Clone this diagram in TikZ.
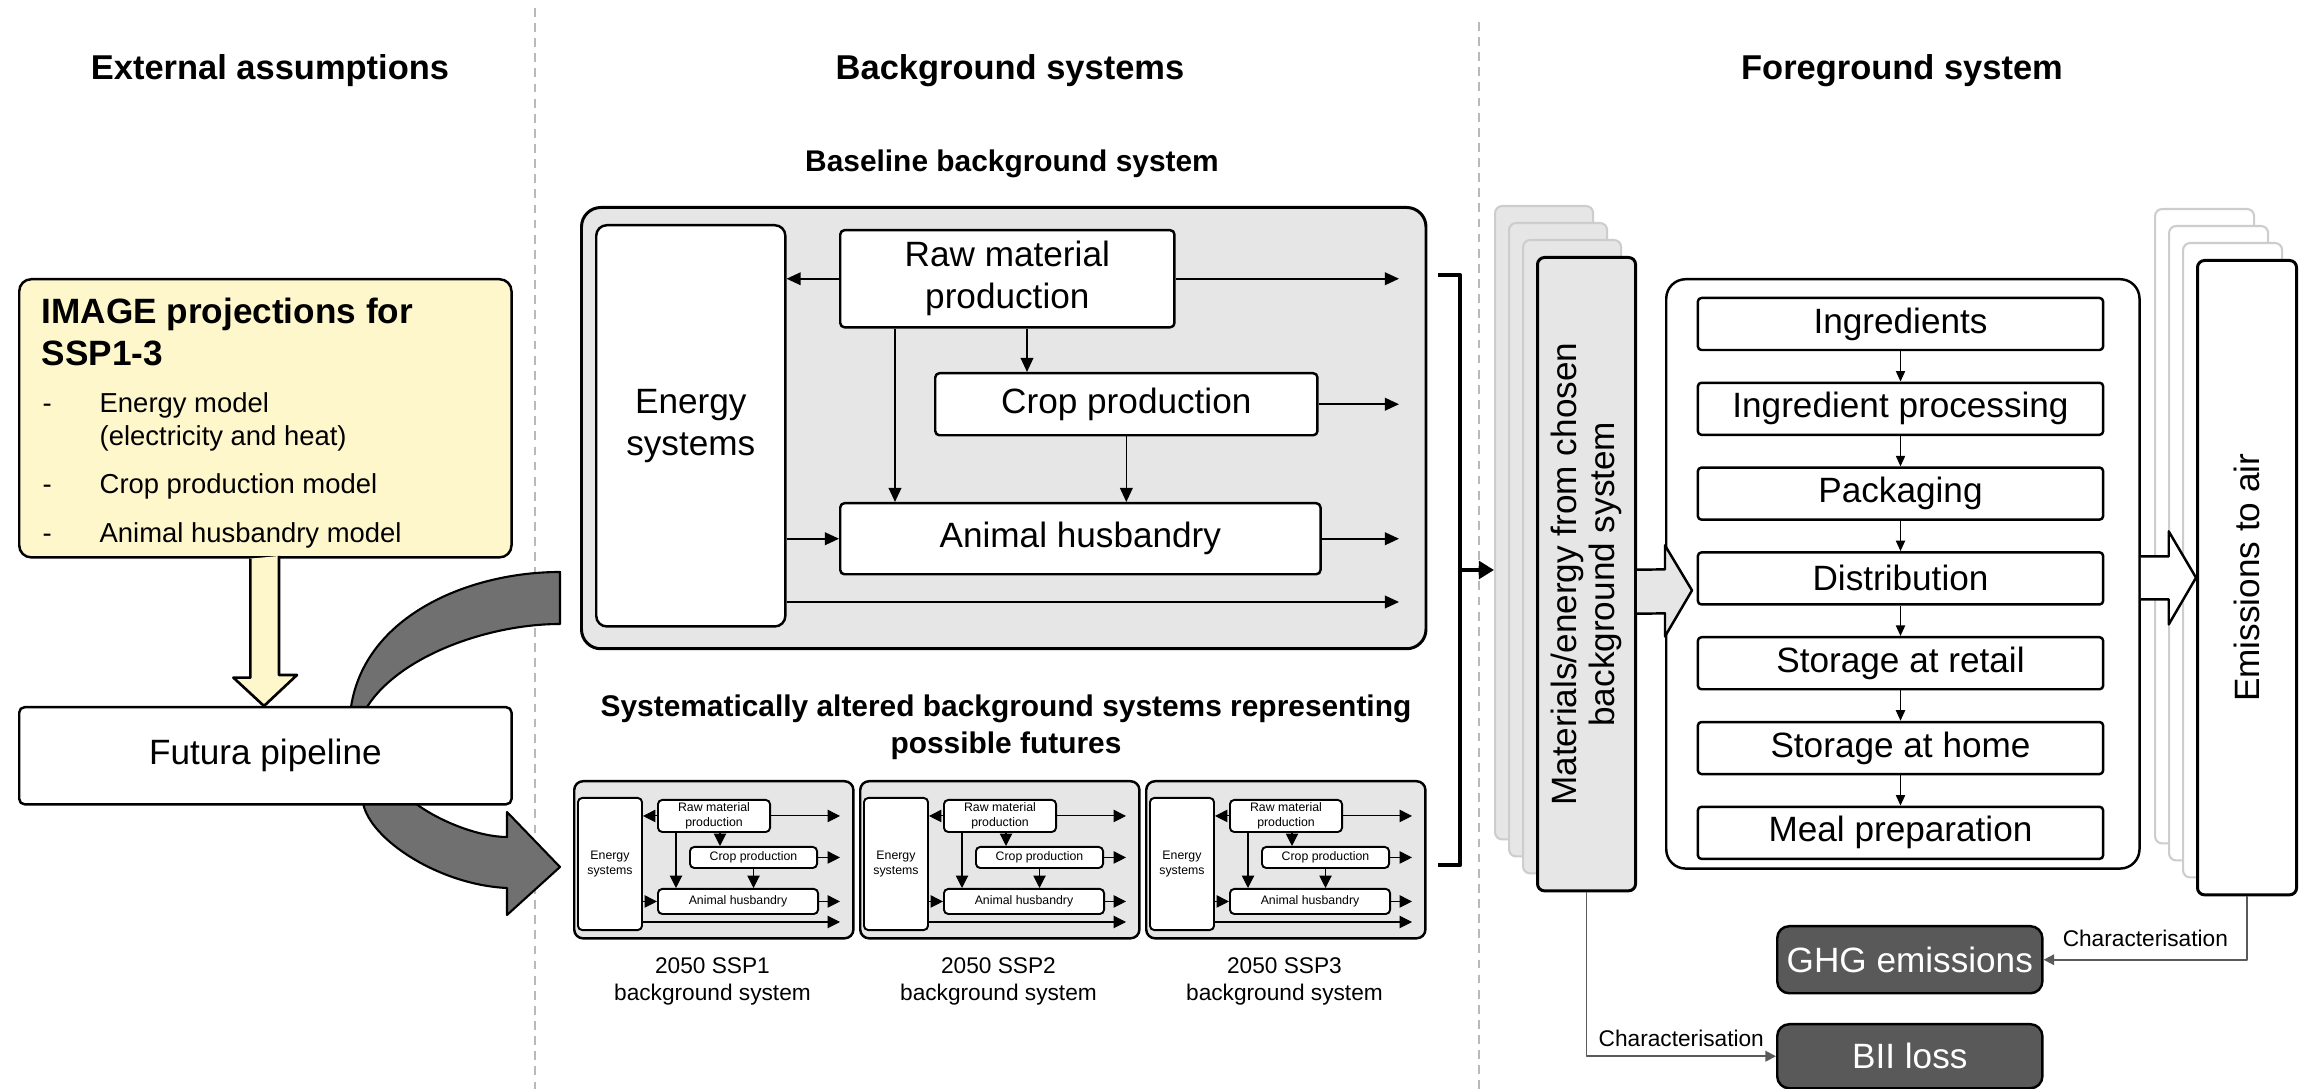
\documentclass[tikz,border=0pt]{standalone}
\usepackage{fontspec}
\setmainfont{Liberation Sans}
\usetikzlibrary{positioning, arrows.meta, calc}

\definecolor{paleyellow}{RGB}{255,247,204}
\definecolor{panelgray}{RGB}{230,230,230}
\definecolor{ghostedge}{RGB}{205,205,205}
\definecolor{darkbox}{RGB}{89,89,89}
\definecolor{bendgray}{RGB}{112,112,112}
\definecolor{sepgray}{RGB}{185,185,185}
\definecolor{linkgray}{RGB}{90,90,90}

\begin{document}
\begin{tikzpicture}[x=0.01cm, y=-0.01cm, line join=round,
        font=\fontsize{10}{12}\selectfont,
        heading/.style={font=\fontsize{9.8}{12}\selectfont\bfseries, inner sep=0pt, anchor=base},
        subheading/.style={font=\fontsize{8.5}{10.5}\selectfont\bfseries, inner sep=0pt, align=center},
        item/.style={font=\fontsize{7.8}{9.4}\selectfont, inner sep=0pt, anchor=base west},
        box/.style={draw, line width=0.7pt, fill=white, rounded corners=1.2pt, inner sep=0pt, align=center, anchor=north west},
        tinybox/.style={font=\fontsize{3.5}{4.2}\selectfont, line width=0.55pt},
        panel/.style={draw, line width=0.85pt, fill=panelgray, rounded corners=5.5pt, inner sep=0pt, anchor=north west},
        ghost/.style={draw=ghostedge, line width=0.6pt, rounded corners=2pt, inner sep=0pt, anchor=north west},
        stepbox/.style={draw, line width=0.7pt, fill=white, rounded corners=1pt, minimum width=4.05cm, minimum height=0.52cm, inner sep=0pt},
        impact/.style={draw, line width=0.7pt, fill=darkbox, text=white, rounded corners=3.4pt, minimum width=2.65cm, inner sep=0pt, anchor=north west},
        flow/.style={line width=0.45pt, -{Triangle[length=4pt, width=3.6pt]}},
        tinyflow/.style={line width=0.3pt, -{Triangle[length=3.5pt, width=3.5pt]}},
        steparrow/.style={line width=0.45pt, -{Triangle[length=3pt, width=2.6pt]}},
        charlink/.style={draw=linkgray, line width=0.5pt, -{Triangle[length=3pt, width=3pt]}},
        charlabel/.style={font=\fontsize{6.45}{7.7}\selectfont, text=black, above},
        sepline/.style={draw=sepgray, line width=0.4pt, dash pattern=on 2.5pt off 1.8pt}
    ]
    \path[fill=white, use as bounding box] (0,0) rectangle (2311,1089);

    \node[heading] (hext) at (270,80) {External assumptions};
    \node[heading] (hbg) at (1010,80) {Background systems};
    \node[heading] (hfg) at (1902,80) {Foreground system};

    \draw[sepline] (535,8) -- (535,1089);
    \draw[sepline] (1479,22) -- (1479,1089);

    \node[box, fill=paleyellow, rounded corners=3.4pt, minimum width=4.92cm, minimum height=2.78cm] (img) at (18,278) {};
    \node[anchor=north west, align=left, inner sep=0pt, font=\fontsize{10}{12}\selectfont\bfseries] (imgtitle) at (41,297) {IMAGE projections for\\SSP1-3};
    \foreach \y/\txt [count=\k] in {413/Energy model, 494/Crop production model, 543/Animal husbandry model} {
        \node[item] (dash\k) at (42,\y) {-};
        \node[item] (model\k) at (99,\y) {\txt};
    }
    \node[item] (model1b) at (99,446) {(electricity and heat)};

    \draw[line width=0.75pt, fill=paleyellow] (img.south) ++(-15,0) -- ++(0,119) -- ++(-17,0) -- (264,706) -- ++(33,-31) -- ++(-18,0) -- ++(0,-119);

    \draw[line width=0.6pt, fill=bendgray] (560,572) .. controls (470,572) and (365,615) .. (351,707)
        .. controls (348,740) and (352,775) .. (363,803)
        .. controls (370,840) and (440,885) .. (507,888) -- (507,915) -- (560,867) -- (507,812) -- (507,837)
        .. controls (480,837) and (440,822) .. (415,803)
        .. controls (390,785) and (372,730) .. (367,707)
        .. controls (400,655) and (490,624) .. (560,624) -- cycle;

    \node[box, rounded corners=1.5pt, minimum width=4.92cm, minimum height=0.97cm] (futura) at (18,706) {Futura pipeline};

    \node[subheading, anchor=base] (basetitle) at (1012,172) {Baseline background system};
    \node[panel, minimum width=8.44cm, minimum height=4.41cm] (basepanel) at (580,206) {};
    \node[box, rounded corners=3pt, minimum width=1.89cm, minimum height=4.01cm] (energy) at (595,224) {Energy\\systems};
    \node[box, minimum width=3.34cm, minimum height=0.97cm] (raw) at (839,229) {Raw material\\production};
    \node[box, minimum width=3.82cm, minimum height=0.62cm] (crop) at (934,372) {Crop production};
    \node[box, minimum width=4.80cm, minimum height=0.71cm] (animal) at (839,502) {Animal husbandry};

    \coordinate (bout) at (1399,602);
    \coordinate (rc) at (1027,0);
    \coordinate (ra) at (895,0);
    \draw[flow] (raw.west) -- (raw.west -| energy.east);
    \draw[flow] (raw.east) -- (raw.east -| bout);
    \draw[flow] (crop.east) -- (crop.east -| bout);
    \draw[flow] (animal.east) -- (animal.east -| bout);
    \draw[flow] (energy.east |- bout) -- (bout);
    \draw[flow] (energy.east |- animal.west) -- (animal.west);
    \draw[flow] (raw.south -| rc) -- (crop.north -| rc);
    \draw[flow] (raw.south -| ra) -- (animal.north -| ra);
    \draw[flow] (crop.south) -- (crop.south |- animal.north);

    \node[subheading, anchor=north] (alttitle) at (1006,694) {Systematically altered background systems representing\\possible futures};
    \foreach \dx/\n in {0/1, 286/2, 572/3} {
        \begin{scope}[shift={(\dx,0)}]
            \node[panel, line width=0.7pt, rounded corners=2.5pt, minimum width=2.79cm, minimum height=1.57cm] (ssp\n) at (573,780) {};
            \node[box, tinybox, minimum width=0.64cm, minimum height=1.32cm] (senergy\n) at (577,797) {Energy\\systems};
            \node[box, tinybox, minimum width=1.12cm, minimum height=0.32cm] (sraw\n) at (657,799) {Raw material\\production};
            \node[box, tinybox, minimum width=1.27cm, minimum height=0.21cm] (scrop\n) at (689,846) {Crop production};
            \node[box, tinybox, minimum width=1.60cm, minimum height=0.25cm] (sanimal\n) at (657,888) {Animal husbandry};
            \coordinate (sout\n) at (840,922);
            \coordinate (src\n) at (720,0);
            \coordinate (sra\n) at (676,0);
            \draw[tinyflow] (sraw\n.west) -- (sraw\n.west -| senergy\n.east);
            \draw[tinyflow] (sraw\n.east) -- (sraw\n.east -| sout\n);
            \draw[tinyflow] (scrop\n.east) -- (scrop\n.east -| sout\n);
            \draw[tinyflow] (sanimal\n.east) -- (sanimal\n.east -| sout\n);
            \draw[tinyflow] (senergy\n.east |- sout\n) -- (sout\n);
            \draw[tinyflow] (senergy\n.east |- sanimal\n.west) -- (sanimal\n.west);
            \draw[tinyflow] (sraw\n.south -| src\n) -- (scrop\n.north -| src\n);
            \draw[tinyflow] (sraw\n.south -| sra\n) -- (sanimal\n.north -| sra\n);
            \draw[tinyflow] (scrop\n.south) -- (scrop\n.south |- sanimal\n.north);
            \node[font=\fontsize{6.45}{7.7}\selectfont, align=center, anchor=north, inner sep=0pt] (ssplabel\n) at (712.5,957) {2050 SSP\n\\background system};
        \end{scope}
    }

    \foreach \k in {3,2,1}
        \node[ghost, fill=panelgray, minimum width=0.98cm, minimum height=6.33cm] (mb\k) at ({1536-14*\k},{256-17*\k}) {};
    \node[box, fill=panelgray, line width=0.85pt, rounded corners=2pt, minimum width=0.98cm, minimum height=6.33cm] (mat) at (1536,256) {};
    \node[rotate=90, align=center, inner sep=0pt, font=\fontsize{10}{11}\selectfont] (matlabel) at (mat.center) {Materials/energy from chosen\\background system};

    \draw[line width=1.3pt] (1438,275) -- (1460,275) -- (1460,865) -- (1438,865);
    \coordinate (brk) at (1460,570);
    \draw[line width=1.3pt, -{Triangle[length=4.3pt, width=5pt]}] (brk) -- (brk -| mb3.west);

    \node[box, rounded corners=5.5pt, minimum width=4.73cm, minimum height=5.89cm] (fg) at (1665,278) {};
    \draw[line width=0.7pt, fill=panelgray] ($(mat.east)+(0,-4.5)$) -- ($(fg.west)+(0,-4.5)$) -- ($(fg.west)+(0,-28.5)$)
        -- ($(fg.west)+(27,16.5)$) -- ($(fg.west)+(0,62.5)$) -- ($(fg.west)+(0,39.5)$) -- ($(mat.east)+(0,39.5)$);

    \node[stepbox] (step1) at (1900.5,324) {Ingredients};
    \foreach \s [count=\i from 2, remember=\i as \j (initially 1)] in {Ingredient processing, Packaging, Distribution, Storage at retail, Storage at home, Meal preparation}
        \node[stepbox, below=0.303cm of step\j] (step\i) {\s};
    \foreach \j [count=\i from 2] in {1,...,6}
        \draw[steparrow] (step\j.south) -- (step\i.north);

    \foreach \k in {3,2,1}
        \node[ghost, fill=white, minimum width=0.99cm, minimum height=6.34cm] (eb\k) at ({2196-14*\k},{259-17*\k}) {};
    \node[box, line width=0.85pt, rounded corners=2pt, minimum width=0.99cm, minimum height=6.34cm] (emis) at (2196,259) {};
    \node[rotate=90, inner sep=0pt] (emislabel) at (emis.center) {Emissions to air};
    \draw[line width=0.7pt, fill=white] ($(fg.east)+(0,-17.5)$) -- ++(28,0) -- ++(0,-25) -- (emis.west)
        -- ($(fg.east)+(28,50.5)$) -- ++(0,-25) -- ($(fg.east)+(0,25.5)$);

    \node[impact, minimum height=0.67cm] (ghg) at (1776,925) {GHG emissions};
    \node[impact, minimum height=0.64cm] (bii) at (1776,1023) {BII loss};
    \draw[charlink] (emis.south) |- (ghg.east) node[charlabel, pos=0.75, inner sep=3.5pt] (ghgchar) {Characterisation};
    \draw[charlink] (mat.south) |- (bii.west) node[charlabel, pos=0.75, inner sep=2.5pt] (biichar) {Characterisation};
\end{tikzpicture}
\end{document}
